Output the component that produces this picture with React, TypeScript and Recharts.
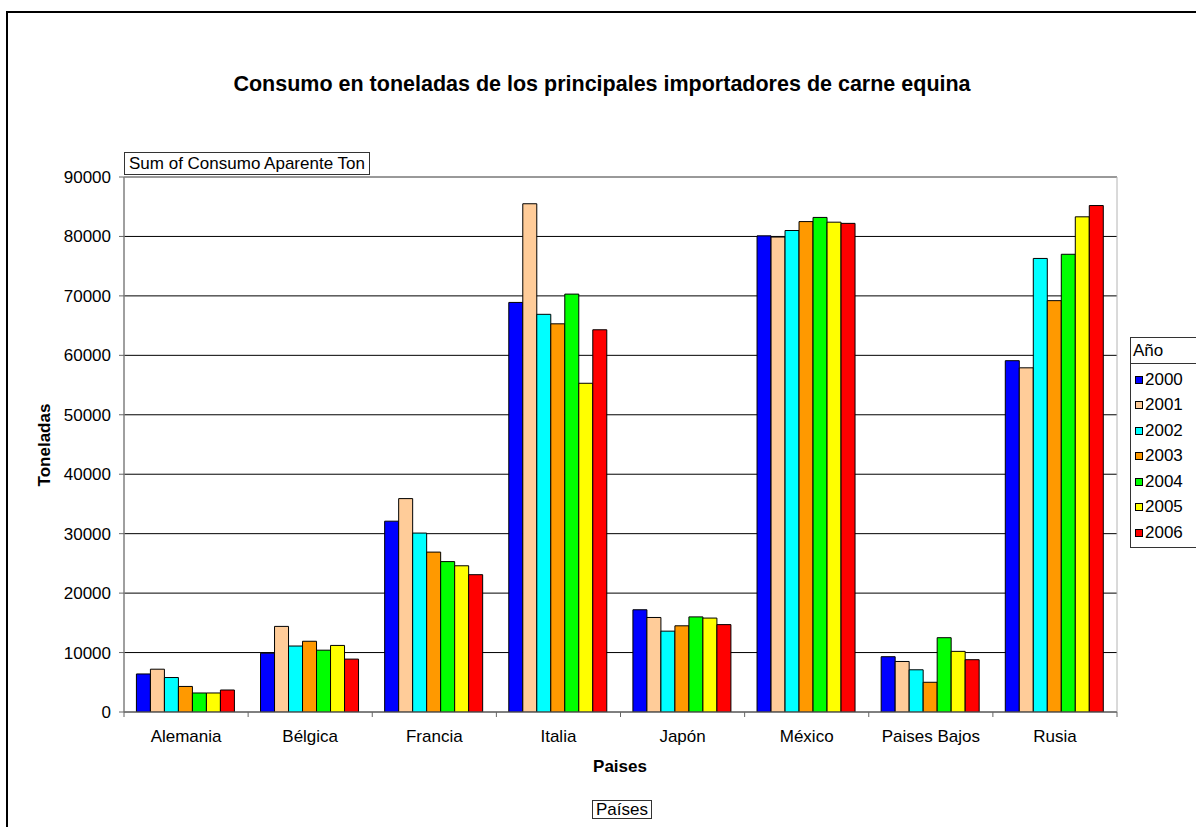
import { Bar, BarChart, CartesianGrid, ReferenceArea, XAxis, YAxis } from "recharts";

const paises = ["Alemania", "Bélgica", "Francia", "Italia", "Japón", "México", "Paises Bajos", "Rusia"];
const anios = ["2000", "2001", "2002", "2003", "2004", "2005", "2006"];
const coloresAnio = ["#0000FF", "#FFCC99", "#00FFFF", "#FF9900", "#00FF00", "#FFFF00", "#FF0000"];

const ton2000 = [6400, 9900, 32100, 68900, 17200, 80100, 9300, 59100];
const ton2001 = [7200, 14400, 35900, 85500, 15900, 79900, 8500, 57900];
const ton2002 = [5800, 11100, 30100, 66900, 13600, 81000, 7100, 76300];
const ton2003 = [4300, 11900, 26900, 65300, 14500, 82500, 5000, 69200];
const ton2004 = [3200, 10400, 25300, 70300, 16000, 83200, 12500, 77000];
const ton2005 = [3200, 11200, 24600, 55300, 15800, 82400, 10200, 83300];
const ton2006 = [3700, 8900, 23100, 64300, 14700, 82200, 8800, 85200];

const yTicks = [0, 10000, 20000, 30000, 40000, 50000, 60000, 70000, 80000, 90000];

const series = [ton2000, ton2001, ton2002, ton2003, ton2004, ton2005, ton2006];

const data = paises.map((pais, i) => {
  const row: Record<string, string | number> = { pais };
  anios.forEach((anio, j) => {
    row[anio] = series[j][i];
  });
  return row;
});

const FONT = "'Liberation Sans', Arial, sans-serif";
const WIDTH = 1196;
const HEIGHT = 827;
const MARGIN = { top: 177, right: 79, left: 64, bottom: 85 };
const Y_AXIS_WIDTH = 60;
const PLOT_WIDTH = WIDTH - MARGIN.left - MARGIN.right - Y_AXIS_WIDTH;
const HALF_BAND = PLOT_WIDTH / paises.length / 2;
const X_TICK_SIZE = 5;
const X_TICK_MARGIN = 13;

// etiqueta centrada + marcas entre categorias (como Excel)
function PaisTick(props: any) {
  const { x, y, payload, index } = props;
  const axisY = y - X_TICK_SIZE - X_TICK_MARGIN;
  return (
    <g>
      <line x1={x - HALF_BAND} x2={x - HALF_BAND} y1={axisY} y2={axisY + X_TICK_SIZE} stroke="#666" />
      {index === paises.length - 1 && (
        <line x1={x + HALF_BAND} x2={x + HALF_BAND} y1={axisY} y2={axisY + X_TICK_SIZE} stroke="#666" />
      )}
      <text x={x} y={y} dy="0.71em" textAnchor="middle" fontSize={17} fontFamily={FONT} fill="#000">
        {payload.value}
      </text>
    </g>
  );
}

export default function App() {
  return (
    <div style={{ position: "absolute", left: 0, top: 0, width: WIDTH, height: HEIGHT, overflow: "hidden", background: "#fff", fontFamily: FONT }}>
      <div style={{ position: "absolute", left: 6, top: 11, width: 1300, height: 900, borderLeft: "2px solid #000", borderTop: "2px solid #000" }} />
      <div style={{ position: "absolute", left: 0, width: 1204, top: 72, textAlign: "center", fontWeight: "bold", fontSize: 21.5, whiteSpace: "nowrap" }}>
        Consumo en toneladas de los principales importadores de carne equina
      </div>
      <BarChart
        width={WIDTH}
        height={HEIGHT}
        data={data}
        margin={MARGIN}
        barCategoryGap="10%"
        barGap={0}
        style={{ position: "absolute", left: 0, top: 0 }}
      >
        <CartesianGrid horizontal vertical={false} stroke="#000" />
        <ReferenceArea y1={0} y2={90000} fill="none" stroke="#b4b4b4" strokeOpacity={1} />
        <XAxis
          dataKey="pais"
          height={30}
          tickLine={false}
          tickSize={X_TICK_SIZE}
          tickMargin={X_TICK_MARGIN}
          stroke="#666"
          tick={<PaisTick />}
          interval={0}
        />
        <YAxis
          width={Y_AXIS_WIDTH}
          domain={[0, 90000]}
          ticks={yTicks}
          interval={0}
          tickSize={5}
          tickMargin={8}
          stroke="#666"
          tick={{ fontSize: 17, fontFamily: FONT, fill: "#000" }}
          allowDataOverflow
        />
        {anios.map((anio, j) => (
          <Bar key={anio} dataKey={anio} fill={coloresAnio[j]} stroke="#000" strokeWidth={1} isAnimationActive={false} />
        ))}
      </BarChart>
      <div style={{ position: "absolute", left: 124, top: 152, height: 21, lineHeight: "21px", padding: "0 4px", border: "1px solid #333", fontSize: 17, background: "#fff", whiteSpace: "nowrap" }}>
        Sum of Consumo Aparente Ton
      </div>
      <div style={{ position: "absolute", left: 45, top: 445, transform: "translate(-50%, -50%) rotate(-90deg)", fontWeight: "bold", fontSize: 17, whiteSpace: "nowrap" }}>
        Toneladas
      </div>
      <div style={{ position: "absolute", left: 0, width: 1240, top: 757, textAlign: "center", fontWeight: "bold", fontSize: 17 }}>
        Paises
      </div>
      <div style={{ position: "absolute", left: 592, top: 800, height: 17, lineHeight: "17px", padding: "0 3px", border: "1px solid #333", fontSize: 17 }}>
        Países
      </div>
      <div style={{ position: "absolute", left: 1130, top: 337, width: 100, height: 209, border: "1px solid #333", background: "#fff", fontSize: 17 }}>
        <div style={{ height: 25, lineHeight: "25px", paddingLeft: 2, borderBottom: "1px solid #333" }}>Año</div>
        <div style={{ paddingTop: 3 }}>
          {anios.map((anio, j) => (
            <div key={anio} style={{ height: 25.5, display: "flex", alignItems: "center", paddingLeft: 4 }}>
              <span style={{ display: "inline-block", width: 6, height: 6, background: coloresAnio[j], border: "1px solid #000", marginRight: 2 }} />
              {anio}
            </div>
          ))}
        </div>
      </div>
    </div>
  );
}
